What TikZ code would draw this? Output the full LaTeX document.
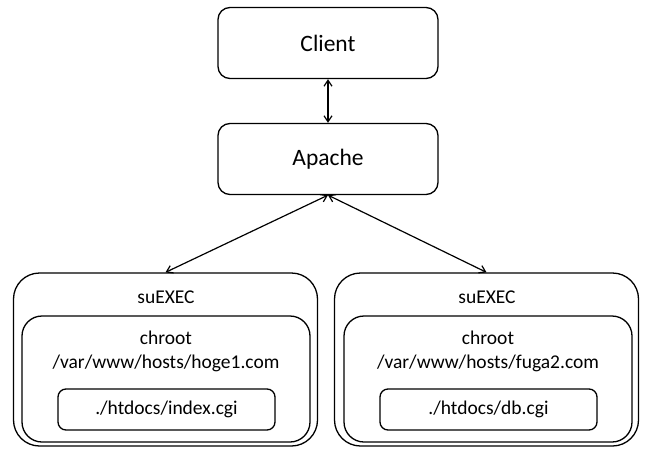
\documentclass[tikz,border=0pt]{standalone}
\usepackage{fontspec}
\setmainfont{Carlito}
\usetikzlibrary{arrows.meta}
\tikzset{
  server/.style={draw, line width=1.3pt, rounded corners=12pt, minimum width=220pt, minimum height=71pt, font=\fontsize{23.5}{28}\selectfont},
  jail/.style={draw, line width=1.3pt, rounded corners=26pt, minimum width=304pt, minimum height=173pt},
  root/.style={draw, line width=1.3pt, rounded corners=20pt, minimum width=288pt, minimum height=126pt},
  script/.style={draw, line width=1.3pt, rounded corners=8pt, minimum width=217pt, minimum height=41pt, font=\fontsize{19.5}{24}\selectfont},
  caption/.style={font=\fontsize{19.5}{24}\selectfont, align=center}
}
\begin{document}
\begin{tikzpicture}[x=1pt, y=-1pt, >={Straight Barb[length=6pt,width=8pt]}]
    \useasboundingbox (0,0) rectangle (645,450);
    \node[server] (client) at (328,43) {Client};
    \node[server] (apache) at (328,159) {Apache};
    % left side
    \node[jail] (suexecA) at (165.5,359.5) {};
    \node[root] (chrootA) at (166,379) {};
    \node[script] (cgiA) at (166.5,409.5) {./htdocs/index.cgi};
    \node[caption] (labelA) at (166,297) {suEXEC};
    \node[caption] (pathA) at (166,351) {chroot\\/var/www/hosts/hoge1.com};
    % right side
    \node[jail] (suexecB) at (486.5,359.5) {};
    \node[root] (chrootB) at (488,379) {};
    \node[script] (cgiB) at (488.5,409.5) {./htdocs/db.cgi};
    \node[caption] (labelB) at (487,297) {suEXEC};
    \node[caption] (pathB) at (488,351) {chroot\\/var/www/hosts/fuga2.com};
    \draw[<->, line width=1.2pt] (client)--(apache);
    \draw[<->, line width=1.2pt] (apache.south)--(suexecA.north);
    \draw[<->, line width=1.2pt] (apache.south)--(suexecB.north);
\end{tikzpicture}
\end{document}
